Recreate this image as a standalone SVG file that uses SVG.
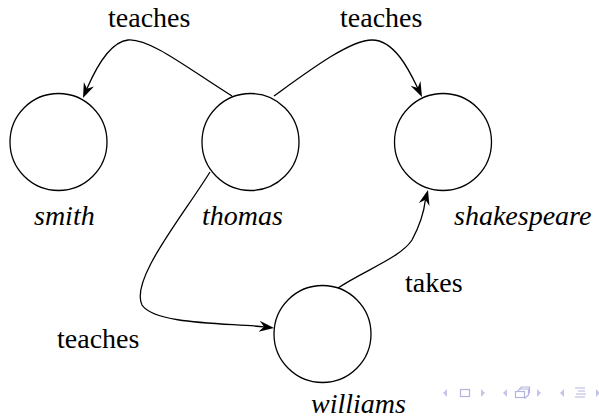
<svg xmlns="http://www.w3.org/2000/svg" width="599" height="419" viewBox="0 0 599 419">
  <!-- nodes: plain circles with italic names below -->
  <g id="smith">
    <circle cx="58.5" cy="142" r="48.5" fill="none" stroke="#000" stroke-width="1.3"/>
    <text transform="translate(34,225) scale(1.1667)" font-family="Liberation Serif" font-size="24" font-style="italic">smith</text>
  </g>
  <g id="thomas">
    <circle cx="250.5" cy="142" r="48.5" fill="none" stroke="#000" stroke-width="1.3"/>
    <text transform="translate(202,225) scale(1.1667)" font-family="Liberation Serif" font-size="24" font-style="italic">thomas</text>
  </g>
  <g id="shakespeare">
    <circle cx="443" cy="142" r="48.5" fill="none" stroke="#000" stroke-width="1.3"/>
    <text transform="translate(454,225) scale(1.1667)" font-family="Liberation Serif" font-size="24" font-style="italic">shakespeare</text>
  </g>
  <g id="williams">
    <circle cx="322.5" cy="334" r="48.5" fill="none" stroke="#000" stroke-width="1.3"/>
    <text transform="translate(311,413) scale(1.1667)" font-family="Liberation Serif" font-size="24" font-style="italic">williams</text>
  </g>

  <!-- connectors: curves, barbed arrowheads and their labels -->
  <g id="connectors">
    <g fill="none" stroke="#000" stroke-width="1.3">
      <path d="M232,96 C190,70 150,38 128,40 C110,42 95,70 86.9,88.8"/>
      <path d="M274,96 C310,70 350,40 372,40 C395,40 410,72 417.7,88"/>
      <path d="M210,172 C180,220 130,280 142,305 C155,325 230,323 264,326.9"/>
      <path d="M338,288 C365,270 400,258 412,240 C420,225 424,212 425.4,199.7"/>
    </g>
    <g fill="#000">
      <path d="M83,98 L93.96,86.38 L86.94,88.81 L83.86,82.04 Z"/>
      <path d="M422,97 L410.55,85.85 L417.67,87.98 L420.47,81.09 Z"/>
      <path d="M274,328 L258.47,331.78 L264.06,326.87 L259.71,320.84 Z"/>
      <path d="M428,190 L429.44,205.91 L425.42,199.66 L418.82,203.07 Z"/>
    </g>
    <text transform="translate(108,27) scale(1.1667)" font-family="Liberation Serif" font-size="24">teaches</text>
    <text transform="translate(340,27) scale(1.1667)" font-family="Liberation Serif" font-size="24">teaches</text>
    <text transform="translate(57,348) scale(1.1667)" font-family="Liberation Serif" font-size="24">teaches</text>
    <text transform="translate(405,292) scale(1.1667)" font-family="Liberation Serif" font-size="24">takes</text>
  </g>

  <!-- slide navigation symbols -->
  <g id="navigation">
    <g fill="#c4c4e8">
      <path d="M447,389 L443,393 L447,397 Z"/>
      <path d="M481,389 L485,393 L481,397 Z"/>
      <path d="M507,389 L503,393 L507,397 Z"/>
      <path d="M537,389 L541,393 L537,397 Z"/>
      <path d="M564,389 L560,393 L564,397 Z"/>
      <path d="M596,389 L599,392 L599,394 L596,397 Z"/>
    </g>
    <g fill="none" stroke="#b4b4e0" stroke-width="1.2">
      <rect x="460.5" y="389.5" width="9" height="7"/>
      <rect x="515.5" y="391.5" width="9" height="6"/>
      <path d="M517.5,391.5 l2,-2.5 h9 v6 l-4,3.5"/>
      <path d="M519.5,389 l2,-2 h8 v5.5 l-1.5,1.5"/>
      <path d="M575,388 h10 M578,391 h7 M576,394 h10 M575,397 h10"/>
    </g>
  </g>
</svg>
